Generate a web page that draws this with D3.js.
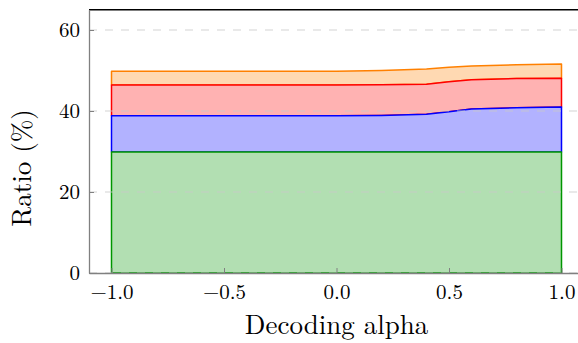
<!DOCTYPE html>
<html>
<head>
<meta charset="utf-8">
<script src="https://cdn.jsdelivr.net/npm/d3@7"></script>
<style>
  body { margin: 0; background: #fff; }
  svg text { font-family: "Latin Modern Roman", "Liberation Serif", serif; fill: #000; }
</style>
</head>
<body>
<svg id="chart" width="578" height="343"></svg>
<script>
// decoding alpha values
var alphas = [-1.0, -0.8, -0.6, -0.4, -0.2, 0.0, 0.2, 0.4, 0.5, 0.6, 0.8, 1.0];
// layer heights (stacked, %)
var greenVals  = [29.9, 29.9, 29.9, 29.9, 29.9, 29.9, 29.9, 29.9, 29.9, 29.9, 29.9, 29.9];
var blueVals   = [8.9, 8.9, 8.9, 8.9, 8.9, 8.9, 9.0, 9.3, 9.9, 10.6, 10.9, 11.1];
var redVals    = [7.6, 7.6, 7.6, 7.6, 7.6, 7.6, 7.6, 7.4, 7.4, 7.2, 7.2, 7.1];
var orangeVals = [3.4, 3.4, 3.4, 3.4, 3.4, 3.4, 3.5, 3.8, 3.6, 3.4, 3.4, 3.5];
var xTicks = [-1.0, -0.5, 0.0, 0.5, 1.0];
var yTicks = [0, 20, 40, 60];

var layers = [
  {key: 'green',  stroke: 'rgb(0,150,0)',  fill: 'rgb(178,223,178)'},
  {key: 'blue',   stroke: 'rgb(0,0,255)',  fill: 'rgb(178,178,255)'},
  {key: 'red',    stroke: 'rgb(255,0,0)',  fill: 'rgb(255,178,178)'},
  {key: 'orange', stroke: 'rgb(255,128,0)', fill: 'rgb(255,217,178)'}
];

var rows = alphas.map(function(a, i) {
  return {x: a, green: greenVals[i], blue: blueVals[i], red: redVals[i], orange: orangeVals[i]};
});

var svg = d3.select('#chart');
var x = d3.scaleLinear().domain([-1.1, 1.1]).range([89, 584]);
var y = d3.scaleLinear().domain([0, 65]).range([273, 9.75]);

var stacked = d3.stack().keys(layers.map(function(l) { return l.key; }))(rows);
stacked.forEach(function(s, i) { s.style = layers[i]; });

var area = d3.area()
    .x(function(d) { return x(d.data.x); })
    .y0(function(d) { return y(d[0]); })
    .y1(function(d) { return y(d[1]); });

// areas, closed and outlined -- top layer first so lower outlines sit on top
svg.selectAll('path.layer')
    .data(stacked.slice().reverse())
  .enter().append('path')
    .attr('class', 'layer')
    .attr('d', function(d) { return area(d) + 'Z'; })
    .attr('fill', function(d) { return d.style.fill; })
    .attr('stroke', function(d) { return d.style.stroke; })
    .attr('stroke-width', 1.5)
    .attr('stroke-linejoin', 'round');

// grid
svg.selectAll('line.grid')
    .data(yTicks)
  .enter().append('line')
    .attr('class', 'grid')
    .attr('x1', 89).attr('x2', 584)
    .attr('y1', function(d) { return y(d); })
    .attr('y2', function(d) { return y(d); })
    .attr('stroke', '#c8c8c8')
    .attr('stroke-opacity', 0.8)
    .attr('stroke-width', 1)
    .attr('stroke-dasharray', '8,8');

// frame: top black, left/bottom gray
svg.append('line').attr('x1', 89).attr('x2', 584).attr('y1', y(65)).attr('y2', y(65))
    .attr('stroke', '#000').attr('stroke-width', 1.3);

var xAxis = d3.axisBottom(x).tickValues(xTicks).tickSizeInner(-5).tickSizeOuter(0)
    .tickFormat(function(d) { return d3.format('.1f')(d).replace('-', '\u2212'); });
var gx = svg.append('g').attr('transform', 'translate(0,273)').call(xAxis);
gx.select('.domain').attr('stroke', '#808080').attr('stroke-width', 1.3);
gx.selectAll('.tick line').attr('stroke', '#808080');
gx.selectAll('.tick text').attr('y', 11).attr('font-size', 21).attr('fill', '#000');

var yAxis = d3.axisLeft(y).tickValues(yTicks).tickSizeInner(-5).tickSizeOuter(0);
var gy = svg.append('g').attr('transform', 'translate(89,0)').call(yAxis);
gy.select('.domain').attr('stroke', '#808080').attr('stroke-width', 1.3);
gy.selectAll('.tick line').attr('stroke', '#808080');
gy.selectAll('.tick text').attr('x', -9).attr('font-size', 21).attr('fill', '#000');
gx.attr('font-family', null);
gy.attr('font-family', null);

svg.append('text')
    .attr('x', x(0)).attr('y', 334)
    .attr('text-anchor', 'middle')
    .attr('font-size', 27)
    .text('Decoding alpha');

svg.append('text')
    .attr('transform', 'translate(31,168) rotate(-90)')
    .attr('text-anchor', 'middle')
    .attr('font-size', 27)
    .text('Ratio (%)');
</script>
</body>
</html>
